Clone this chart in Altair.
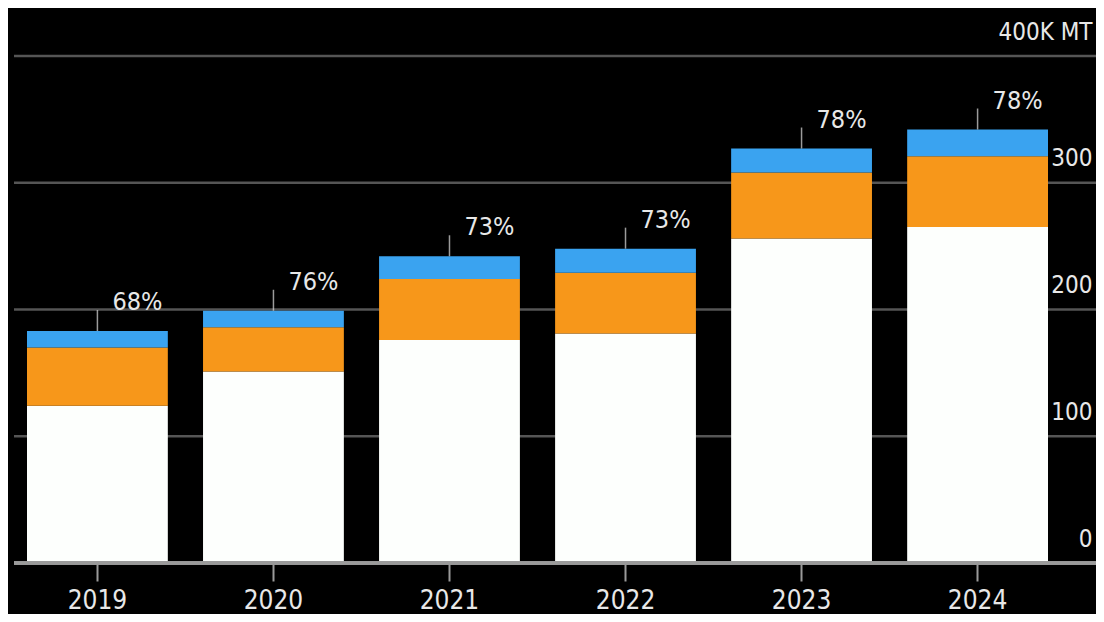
import altair as alt
import pandas as pd

years = ["2019", "2020", "2021", "2022", "2023", "2024"]
seg_bottom = [124, 151, 176, 181, 256, 265]
seg_middle = [46, 35, 48, 48, 52, 56]
seg_top = [13, 13, 18, 19, 19, 21]
pct_labels = ["68%", "76%", "73%", "73%", "78%", "78%"]
series_names = ["Bottom", "Middle", "Top"]
series_colors = ["#FDFFFD", "#F7971A", "#3AA3F0"]
y_ticks = [0, 100, 200, 300, 400]

FONT = "Liberation Sans Narrow, DejaVu Sans Condensed, sans-serif"

rows = []
for i, y in enumerate(years):
    for k, (name, vals) in enumerate(zip(series_names, [seg_bottom, seg_middle, seg_top])):
        rows.append({"year": y, "series": name, "value": vals[i], "order": k})
df = pd.DataFrame(rows)

tot = pd.DataFrame({
    "year": years,
    "total": [a + b + c for a, b, c in zip(seg_bottom, seg_middle, seg_top)],
    "pct": pct_labels,
})
grid_df = pd.DataFrame({"v": y_ticks[1:]})

W, H = 1082, 507

xscale = alt.Scale(domain=years, range=[13, 1034], paddingInner=0.2, paddingOuter=0, round=False)
yscale = alt.Scale(domain=[0, 400], nice=False)

x_axis = alt.Axis(
    title=None, domain=False, ticks=True, tickColor="#9a9a9a", tickWidth=2, tickSize=18,
    labelColor="#e8e8e8", labelFont=FONT, labelFontSize=26, labelPadding=6, labelAngle=0,
    grid=False,
)
y_axis = alt.Axis(
    title=None, orient="right", values=y_ticks, domain=False, ticks=False, tickSize=0,
    labelAlign="right", labelBaseline="alphabetic", labelOffset=-17, labelPadding=-4,
    labelColor="#e8e8e8", labelFont=FONT, labelFontSize=24, labelFlush=False,
    labelExpr="datum.value == 400 ? '400K MT' : datum.label",
    grid=False, zindex=1,
)

grid = alt.Chart(grid_df).mark_rule(color="#555555", strokeWidth=2.5).encode(
    x=alt.value(0), x2=alt.value(W), y=alt.Y("v:Q", scale=yscale, axis=y_axis)
)

bars = alt.Chart(df).mark_bar().encode(
    x=alt.X("year:N", scale=xscale, axis=x_axis, sort=years),
    y=alt.Y("value:Q", stack="zero", scale=yscale),
    color=alt.Color("series:N", scale=alt.Scale(domain=series_names, range=series_colors), legend=None),
    order=alt.Order("order:Q", sort="ascending"),
)

zero = alt.Chart(tot).mark_rule(color="#9a9a9a", strokeWidth=3).encode(
    x=alt.value(0), x2=alt.value(W), y=alt.datum(0, scale=yscale)
)

ticks = alt.Chart(tot).mark_tick(orient="vertical", size=21, thickness=1.5, color="#dddddd", yOffset=-10.5).encode(
    x=alt.X("year:N", scale=xscale, sort=years),
    y=alt.Y("total:Q", scale=yscale),
)

labels = alt.Chart(tot).mark_text(
    align="left", baseline="alphabetic", dx=15, dy=-21, font=FONT, fontSize=25, color="#e8e8e8"
).encode(
    x=alt.X("year:N", scale=xscale, sort=years),
    y=alt.Y("total:Q", scale=yscale),
    text="pct:N",
)

chart = alt.layer(grid, bars, zero, ticks, labels).properties(
    width=W, height=H,
    autosize=alt.AutoSizeParams(type="none"),
    padding={"left": 6, "top": 48, "right": 0, "bottom": 51},
).configure(background="#000000").configure_view(stroke=None)

chart.save("out.html", embed_options={"renderer": "svg", "actions": False})
